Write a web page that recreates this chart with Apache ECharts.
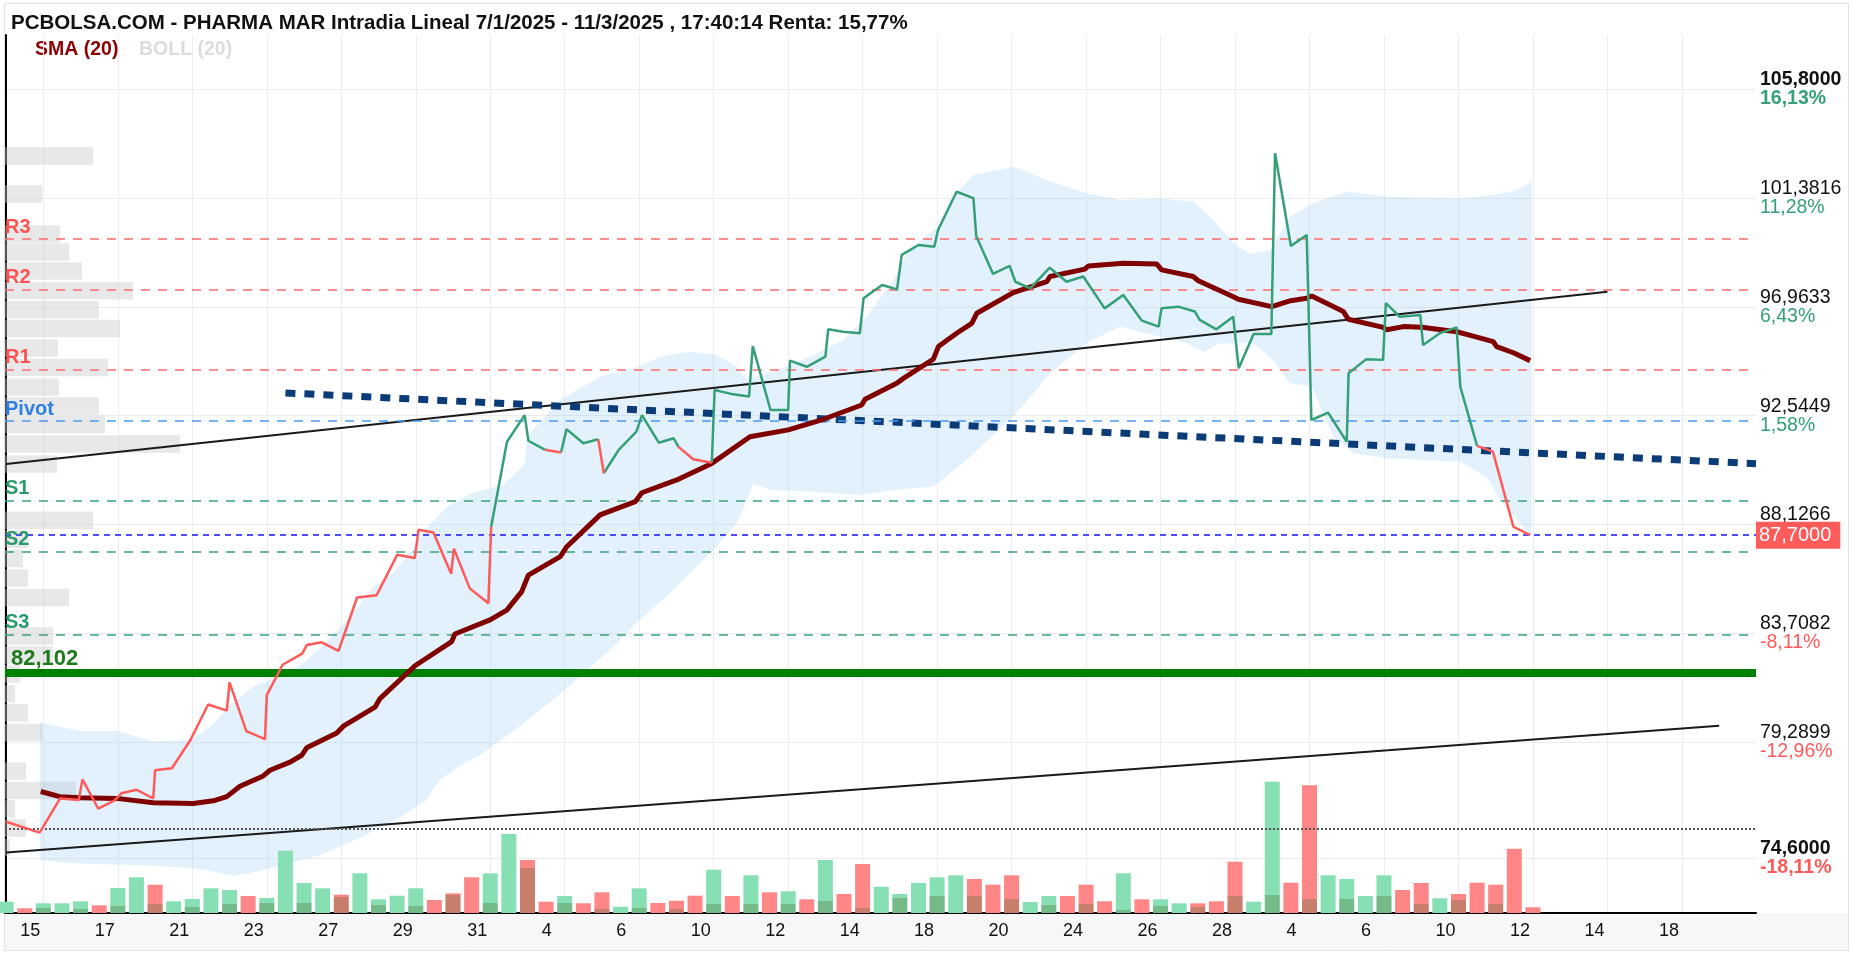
<!DOCTYPE html>
<html>
<head>
<meta charset="utf-8">
<title>PHARMA MAR intradia</title>
<script src="https://cdn.jsdelivr.net/npm/echarts@6/dist/echarts.min.js"></script>
<style>
  html, body { margin: 0; background: #fff; }
  #chart { width: 1853px; height: 953px; }
</style>
</head>
<body>
<div id="chart"></div>
<script>
// sesiones 14/1 .. 20/3, dos tramos (barras) por sesion
var days = ['14','15','16','17','20','21','22','23','24','27','28','29','30','31',
  '3','4','5','6','7','10','11','12','13','14','17','18','19','20','21','24','25','26','27','28',
  '3','4','5','6','7','10','11','12','13','14','17','18','19','20'];
var xTicks = [2,6,10,14,18,22,26,30,34,38,42,46,50,54,58,62,66,70,74,78,82,86,90];

var yTicks = [74.6, 79.2899, 83.7082, 88.1266, 92.5449, 96.9633, 101.3816, 105.8];
var yTickTxt = ['74,6000','79,2899','83,7082','88,1266','92,5449','96,9633','101,3816','105,8000'];
var yTickPct = ['-18,11%','-12,96%','-8,11%','-3,27%','1,58%','6,43%','11,28%','16,13%'];
var refPrice = 91.104;
var lastPrice = 87.70;

// cotizacion (posicion en tramos, precio)
var priceX = [0,1.8,2.9,3.9,4.1,4.95,5.85,6.2,7,7.9,8,8.9,9.9,10.85,11.85,12,12.9,13.9,14,14.85,
  15.9,16.15,16.95,17.85,18.85,19.9,21,21.95,22.15,22.95,23.9,24.05,24.9,25.9,26.05,26.9,27.85,28.05,28.95,29.8,
  30.1,31,31.8,32.1,32.9,33.85,34.15,35.05,35.85,36.1,36.9,37.9,38.05,38.95,39.9,40.1,41.05,42,42.1,43,
  44,44.15,44.95,45.85,46.05,47.05,47.85,48.1,49,49.85,50.05,51.05,51.95,52.1,53,53.9,54.2,55,56.05,56.95,
  57.85,59,60,61,61.9,62.05,62.95,63.85,64.1,65,65.9,66.2,67,67.95,68.15,69,69.85,70.1,71,72,
  72.1,73.05,73.95,74.1,74.85,75.95,76.1,77,77.9,78.1,79,79.85,80.95,81.85];
var priceY = [76.07,75.63,77.02,76.95,77.79,76.6,76.95,77.23,77.37,77.02,78.16,78.24,79.39,80.83,80.58,81.73,79.75,79.42,81.21,82.44,
  82.89,83.24,83.35,83.0,85.17,85.26,86.9,86.77,87.92,87.81,86.13,87.15,85.54,84.94,88.04,91.49,92.57,91.53,91.16,91.05,
  92.0,91.43,91.59,90.21,91.16,91.9,92.57,91.45,91.63,91.29,90.78,90.64,93.59,93.43,93.32,95.37,92.78,92.78,94.78,94.53,
  94.94,96.05,95.95,95.89,97.31,97.85,97.67,99.07,99.47,99.4,100.08,101.63,101.37,99.84,98.3,98.62,97.98,97.71,98.55,97.98,
  98.19,96.9,97.44,96.4,96.16,96.9,96.97,96.77,96.43,96.05,96.56,94.47,95.86,95.86,103.19,99.43,99.88,92.37,92.67,91.49,
  94.27,94.84,94.81,97.11,96.56,96.63,95.41,95.89,96.13,93.72,91.32,91.09,88.04,87.70];

// SMA (20)
var smaX = [1.86,2.89,3.97,5.94,7.91,10.05,11.13,11.85,12.56,13.81,14.17,15.25,15.88,16.14,17.76,18.11,19.81,20.08,21.96,23.93,
  24.1,25.99,26.89,27.69,28.05,29.76,30.11,31.9,33.79,34.14,36.02,37.9,39.95,42.01,43.89,45.95,46.13,47.83,48.19,49.8,
  50.07,51.05,51.86,52.13,54.09,55.89,56.06,57.94,58.12,60,61.79,62.06,63.76,64.03,65.91,66.18,67.97,68.99,69.85,70.12,
  71.82,72.08,73.96,74.15,75.04,76.03,77.91,78.89,79.87,80.05,80.95,81.85];
var smaY = [77.3,77.09,77.05,77.02,76.84,76.81,76.92,77.09,77.51,77.93,78.16,78.49,78.77,79.07,79.67,79.95,80.72,81.07,82.4,83.38,
  83.69,84.26,84.66,85.41,86.08,86.83,87.23,88.52,89.06,89.42,89.94,90.61,91.69,91.97,92.4,92.98,93.21,93.86,94.06,94.84,
  95.35,95.89,96.29,96.7,97.54,97.98,98.19,98.49,98.62,98.73,98.7,98.46,98.19,98.02,97.37,97.27,96.97,97.21,97.31,97.4,
  96.77,96.46,96.13,96.03,96.16,96.13,95.95,95.75,95.55,95.35,95.1,94.78];

// Bandas de Bollinger (20)
var bollUpX = [1.82,3.97,5.94,7.91,9.97,11.13,12.2,13.28,14.71,15.78,16.86,17.93,18.83,19.72,20.8,21.69,22.77,23.66,24.91,26.7,
  27.87,27.96,29.75,31.9,34.04,35.12,36.73,38.16,39.24,39.77,41.38,43.17,44.96,46.22,47.65,48.5,50,50.87,51.95,54.1,
  55.88,58.03,59.82,61.97,63.76,64.84,65.91,66.8,67.88,68.95,70.21,72,74.06,78.08,79.87,81.13,81.93];
var bollUpY = [80.1,79.75,79.75,79.33,79.4,80.03,80.93,81.56,81.98,82.4,83.1,83.94,84.71,85.61,86.17,87.01,88.13,88.83,89.38,89.74,
  90.61,91.7,93.18,94.13,94.54,94.94,95.14,95.01,94.54,94.0,94.4,94.94,95.62,96.56,98.05,99.3,100.2,101.43,102.31,102.65,
  102.11,101.57,101.3,101.36,101.23,100.49,99.54,99.11,99.27,100.62,101.16,101.64,101.43,101.36,101.5,101.7,102.04];
var bollDnX = [1.82,3.97,7.91,10.41,12.2,13.28,14.71,16.86,19,21.15,22.59,23.3,24.38,25.45,27.5,29.5,31,32.43,34.04,36.01,
  37.98,39.24,39.77,40.13,41.03,43.17,45.86,47.65,49.8,51.59,54.09,56.06,58.03,59.82,61.61,63.4,64.3,65.19,66.98,68.06,
  68.95,70.12,71.28,72.35,74.15,78.08,79.51,80.23,81.31,81.93];
var bollDnY = [74.51,74.37,74.3,74.16,73.88,74.02,74.3,74.72,75.41,76.25,76.95,77.79,78.35,78.77,79.9,81.1,82.1,83.04,84.26,85.61,
  87.1,88.18,89.13,89.8,89.53,89.47,89.33,89.53,89.67,90.75,92.51,94.26,95.48,96.16,95.82,95.48,95.14,95.48,95.48,94.81,
  93.86,93.72,91.7,91.02,90.82,90.68,90.07,89.13,88.18,87.64];

// volumen por tramo (miles de titulos) y sentido (1 sube, 0 baja)
var volumes = [11.3,4.7,9.7,9.7,11.7,7.7,25,35.7,28.3,11.7,14,24.7,23,17,15,62.3,30,24.7,18.3,39.7,
  13.7,17.3,24.7,13,19.7,35.7,39.7,79,53,11.3,17,9.7,20.7,6.3,24.7,10,12.3,17.3,43.3,17,
  37.7,20.7,21.7,13.7,53,19,49,26.3,19,30,35.7,37.7,34,28.3,37.7,11,17,17,28.3,11.7,
  39.7,13.7,13.7,9.7,9.7,11.7,51.3,11.3,131.3,30.3,127.7,37.7,34,17,37.7,23,30,14.7,19,30.3,
  28.3,64.3,5.7];
var volUp = [1,0,1,1,1,0,1,1,0,1, 1,1,1,0,1,1,1,1,0,1, 1,1,1,0,0,0,1,1,0,0, 1,0,0,1,1,0,0,0,1,0,
  1,0,1,0,1,0,0,1,1,1, 1,1,0,0,0,1,1,0,0,0, 1,0,1,1,0,0,0,1,1,0, 0,1,1,1,1,0,0,1,0,0, 0,0,0];
// volumen superpuesto (tramos pares)
var volOverlay = [0,5,4,7,9,6,9,10,10,16,8,7,18,10,45,10,4,5,4,9,9,9,12,5,15,17,17,14,8,9,3,7,6,17,18,14,14,17,9,13,9,0];

// perfil de volumen por precio
var profPrice = [103.08,101.54,99.92,99.19,98.42,97.61,96.84,96.08,95.29,94.5,93.71,92.94,92.19,91.4,90.59,
  88.3,87.54,86.75,85.96,85.17,83.61,82.84,82.07,81.26,80.49,79.69,78.13,77.34,76.59,75.82,75.03];
var profVol = [88,37,55,64,77,128,94,115,53,103,54,94,100,175,52,
  88,23,18,23,64,48,48,15,10,23,37,21,71,10,21,5];

// niveles
var pivots = [
  {name: 'R3', value: 99.71, color: '#ff6b6b', text: '#ff5252'},
  {name: 'R2', value: 97.65, color: '#ff6b6b', text: '#ff5252'},
  {name: 'R1', value: 94.40, color: '#ff6b6b', text: '#ff5252'},
  {name: 'Pivot', value: 92.33, color: '#4a98ee', text: '#2f80e0'},
  {name: 'S1', value: 89.09, color: '#3ba37a', text: '#2a9a6c'},
  {name: 'S2', value: 87.02, color: '#3ba37a', text: '#2a9a6c'},
  {name: 'S3', value: 83.65, color: '#3ba37a', text: '#2a9a6c'}
];
var supportLevel = 82.102;
var dottedLevel = 75.78;
var trendUp = [[0, 90.59], [86, 97.57]];
var trendLow = [[0, 74.82], [92, 79.97]];
var trendDots = [[15, 93.47], [93.98, 90.6]];

var FONT = 'Liberation Sans, Arial, sans-serif';
var GREEN = '#35a077', RED = '#ff5a5a';

// tramos coloreados segun el precio final del tramo respecto a la referencia
var greenData = [], redData = [];
for (var i = 1; i < priceX.length; i++) {
  var arr = priceY[i] > refPrice ? greenData : redData;
  var last = arr[arr.length - 1];
  if (!last || last[0] !== priceX[i - 1]) {
    if (last) arr.push([priceX[i - 1], '-']);
    arr.push([priceX[i - 1], priceY[i - 1]]);
  }
  arr.push([priceX[i], priceY[i]]);
}

var volData = volumes.map(function (v, k) {
  return {value: [k, v], itemStyle: {color: volUp[k] ? '#86e0b4' : '#ff8686'}};
});
var overlayData = volOverlay.map(function (v, j) { return [j * 2, v]; });
var profData = profPrice.map(function (p, i) { return [profVol[i], p]; });

function fmtY(v) {
  for (var i = 0; i < yTicks.length; i++) {
    if (Math.abs(v - yTicks[i]) < 1e-6) {
      var edge = (i === 0 || i === yTicks.length - 1);
      var up = yTickPct[i].charAt(0) !== '-';
      return '{' + (edge ? 'pb' : 'p') + '|' + yTickTxt[i] + '}\n{' +
        (up ? 'g' : 'r') + (edge ? 'b' : '') + '|' + yTickPct[i] + '}';
    }
  }
  return '';
}

var markData = pivots.map(function (pv) {
  return {
    yAxis: pv.value,
    lineStyle: {color: pv.color, type: [9, 8], width: 1.5},
    label: {formatter: pv.name, color: pv.text}
  };
});
markData.push({
  yAxis: supportLevel,
  lineStyle: {color: '#008000', type: 'solid', width: 8},
  label: {formatter: '82,102', color: '#1f7a1f', fontSize: 22, distance: [6, 3]}
});
markData.push({
  yAxis: dottedLevel,
  lineStyle: {color: '#555', type: [2, 2], width: 2},
  label: {show: false}
});
markData.push({
  yAxis: lastPrice,
  lineStyle: {color: '#1414ff', type: [6, 5], width: 1.5},
  label: {
    position: 'end', formatter: '87,7000', color: '#fff', fontWeight: 'normal',
    fontSize: 20, backgroundColor: '#ff5b5b', padding: [4, 9, 3, 3], distance: 0
  }
});

var chart = echarts.init(document.getElementById('chart'));
chart.setOption({
  animation: false,
  backgroundColor: '#fff',
  title: {
    text: 'PCBOLSA.COM - PHARMA MAR Intradia Lineal 7/1/2025 - 11/3/2025 , 17:40:14 Renta: 15,77%',
    left: 6, top: 8,
    textStyle: {fontFamily: FONT, fontSize: 20.5, fontWeight: 'bold', color: '#111'}
  },
  graphic: [
    {type: 'rect', z: -10, shape: {x: 5, y: 914, width: 1843, height: 36}, style: {fill: '#f7f7f7'}},
    {type: 'rect', z: -10, shape: {x: 4.5, y: 3.5, width: 1844, height: 947}, style: {fill: null, stroke: '#e2e2e2', lineWidth: 1}},
    {type: 'line', z: -10, shape: {x1: 5.5, y1: 35, x2: 5.5, y2: 913}, style: {stroke: '#d9d9d9', lineWidth: 1}},
    {type: 'text', left: 35, top: 40, style: {text: 'SMA (20)', fill: '#8b0000', font: 'bold 19.5px ' + FONT}},
    {type: 'text', left: 139, top: 40, style: {text: 'BOLL (20)', fill: '#dcdcdc', font: 'bold 19.5px ' + FONT}}
  ],
  grid: {left: 5, right: 97, top: 35, bottom: 40},
  xAxis: [{
    type: 'value', min: -0.06, max: 93.98,
    axisLine: {show: true, onZero: false, lineStyle: {color: '#000', width: 2}},
    axisTick: {show: false, customValues: xTicks},
    splitLine: {show: true, lineStyle: {color: '#ececec', width: 1}},
    axisLabel: {
      customValues: xTicks, margin: 9, align: 'center',
      formatter: function (v) {
        var k = Math.round(v);
        return '{d|' + days[Math.floor((k + 1) / 2)] + '}';
      },
      rich: {d: {width: 46, align: 'left', fontSize: 18, fontFamily: FONT, color: '#111'}}
    }
  }, {
    type: 'value', min: 0, max: 1751, show: false
  }],
  yAxis: [{
    type: 'value', position: 'right', min: 72.37, max: 107.99,
    axisLine: {show: true, lineStyle: {color: '#000', width: 2}},
    axisTick: {show: false, customValues: yTicks},
    splitLine: {show: true, lineStyle: {color: '#ececec', width: 1}},
    axisLabel: {
      customValues: yTicks, margin: 4, align: 'left', formatter: fmtY,
      rich: {
        p: {fontSize: 19.5, fontFamily: FONT, color: '#111', lineHeight: 19},
        pb: {fontSize: 19.5, fontFamily: FONT, color: '#111', fontWeight: 'bold', lineHeight: 19},
        g: {fontSize: 19.5, fontFamily: FONT, color: GREEN, lineHeight: 19},
        gb: {fontSize: 19.5, fontFamily: FONT, color: GREEN, fontWeight: 'bold', lineHeight: 19},
        r: {fontSize: 19.5, fontFamily: FONT, color: RED, lineHeight: 19},
        rb: {fontSize: 19.5, fontFamily: FONT, color: RED, fontWeight: 'bold', lineHeight: 19}
      }
    }
  }, {
    type: 'value', min: 0, max: 878, show: false
  }],
  series: [
    {
      name: 'Perfil', type: 'custom', xAxisIndex: 1, yAxisIndex: 0, silent: true, z: 1,
      data: profData, encode: {x: 0, y: 1},
      renderItem: function (params, api) {
        var a = api.coord([0, api.value(1) + 0.355]);
        var b = api.coord([api.value(0), api.value(1) - 0.355]);
        return {type: 'rect', shape: {x: a[0], y: a[1], width: b[0] - a[0], height: b[1] - a[1]},
          style: {fill: 'rgba(200,200,200,0.42)'}};
      }
    },
    {
      name: 'BOLL (20)', type: 'custom', xAxisIndex: 0, yAxisIndex: 0, silent: true, z: 1,
      data: [[bollUpX[0], bollUpY[0]]], encode: {x: 0, y: 1}, clip: true,
      renderItem: function (params, api) {
        var pts = [], i;
        for (i = 0; i < bollUpX.length; i++) pts.push(api.coord([bollUpX[i], bollUpY[i]]));
        for (i = bollDnX.length - 1; i >= 0; i--) pts.push(api.coord([bollDnX[i], bollDnY[i]]));
        return {type: 'polygon', shape: {points: pts}, style: {fill: 'rgba(150,205,245,0.27)'}};
      }
    },
    {
      name: 'Volumen', type: 'bar', xAxisIndex: 0, yAxisIndex: 1, barWidth: 15,
      data: volData, z: 2
    },
    {
      name: 'Volumen previo', type: 'bar', xAxisIndex: 0, yAxisIndex: 1, barWidth: 15, barGap: '-100%',
      data: overlayData, z: 2, itemStyle: {color: 'rgba(80,110,50,0.32)'}
    },
    {
      name: 'Tendencia', type: 'line', symbol: 'none', silent: true, z: 3,
      data: trendUp, lineStyle: {color: '#1a1a1a', width: 2}
    },
    {
      name: 'Tendencia inf', type: 'line', symbol: 'none', silent: true, z: 3,
      data: trendLow, lineStyle: {color: '#1a1a1a', width: 2}
    },
    {
      name: 'Directriz', type: 'line', symbol: 'none', silent: true, z: 4,
      data: trendDots, lineStyle: {color: '#0b3c78', width: 7, type: [10, 9]}
    },
    {
      name: 'SMA (20)', type: 'line', symbol: 'none', silent: true, z: 5,
      data: smaX.map(function (x, i) { return [x, smaY[i]]; }),
      lineStyle: {color: '#800000', width: 5},
      markLine: {
        symbol: 'none', silent: true, animation: false,
        label: {show: true, position: 'insideStartTop', fontFamily: FONT, fontWeight: 'bold',
          fontSize: 20, distance: [0, 2]},
        data: markData
      }
    },
    {
      name: 'Precio sube', type: 'line', symbol: 'none', silent: true, z: 6, connectNulls: false,
      data: greenData, lineStyle: {color: GREEN, width: 2.5}
    },
    {
      name: 'Precio baja', type: 'line', symbol: 'none', silent: true, z: 6, connectNulls: false,
      data: redData, lineStyle: {color: RED, width: 2.5}
    }
  ]
});
</script>
</body>
</html>
